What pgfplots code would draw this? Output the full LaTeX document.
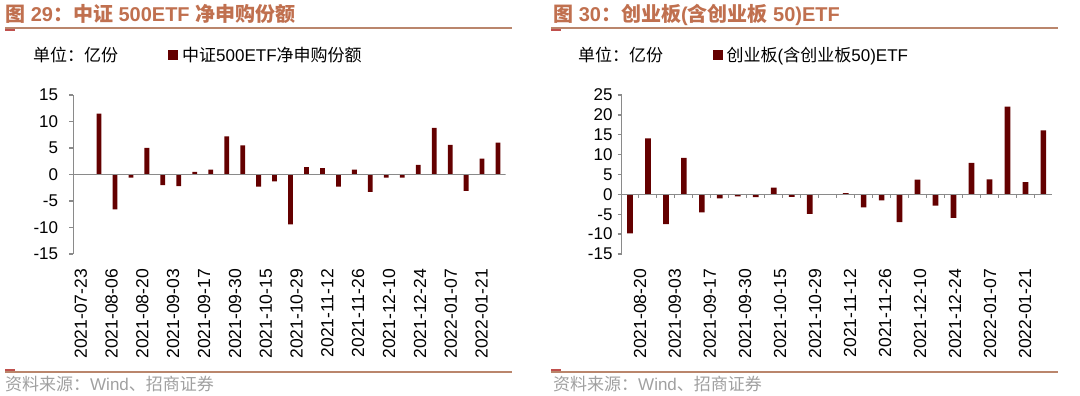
\documentclass[border=0pt]{standalone}
\usepackage{pgfplots}
\pgfplotsset{compat=1.18}
\usepackage{fontspec}
\setmainfont{Liberation Sans}
\newfontfamily\cjk{Noto Sans CJK SC}
\definecolor{barc}{HTML}{640000}
\definecolor{axgray}{HTML}{8A8A8A}
\definecolor{titlec}{HTML}{C0704F}
\definecolor{linec}{HTML}{BA866C}
\definecolor{segc}{HTML}{C0504D}
\definecolor{srcgray}{HTML}{A0A0A0}
\pgfplotsset{
  myax/.style={
    scale only axis, anchor=south west, height=159pt,
    ymin=-15, axis lines*=left,
    x axis line style={draw=none},
    y axis line style={draw=axgray, line width=1.3pt},
    xtick style={draw=none},
    ytick style={draw=axgray, line width=1.3pt},
    tick align=outside, major tick length=4pt,
    ybar, bar shift=0pt,
    xticklabel style={rotate=90, anchor=east, inner sep=0pt, font=\fontsize{17.5}{18}\selectfont},
    xticklabel shift=11pt,
    yticklabel style={anchor=east, inner sep=0pt, font=\fontsize{17}{18}\selectfont},
    legend style={draw=none, fill=none, inner sep=0pt, font=\fontsize{17}{20}\selectfont,
      column sep=4pt, nodes={inner sep=0pt}},
    legend image code/.code={\fill[barc] (0pt,-5pt) rectangle (10pt,5pt);},
  }
}
\begin{document}
\begin{tikzpicture}[x=1pt,y=1pt]
\path[use as bounding box] (0,0) rectangle (1080,396);
% ---------- left panel ----------
\node[anchor=base west, inner sep=0pt, text=titlec, font=\fontsize{20}{24}\selectfont\bfseries] at (5,374)
  {{\cjk\bfseries 图} 29{\cjk\bfseries ：中证} 500ETF {\cjk\bfseries 净申购份额}};
\draw[linec, line width=2pt] (5,367.7) -- (512,367.7);
\draw[segc, line width=1.5pt] (5,366.2) -- (15,366.2);
\node[anchor=west, inner sep=0pt, font=\fontsize{17}{20}\selectfont\cjk] at (33,341) {单位：亿份};
\begin{axis}[myax, at={(73.3pt,142pt)}, width=432.4pt,
  xmin=-0.61, xmax=26.48, ymax=15,
  ytick={-15,-10,-5,0,5,10,15}, yticklabels={-15,-10,-5,0,5,10,15},
  yticklabel style={xshift=-11pt},
  bar width=4.8pt,
  xtick={-0.14,1.79,3.72,5.65,7.59,9.52,11.45,13.38,15.31,17.24,19.18,21.11,23.04,24.97},
  xticklabels={2021-07-23,2021-08-06,2021-08-20,2021-09-03,2021-09-17,2021-09-30,2021-10-15,2021-10-29,2021-11-12,2021-11-26,2021-12-10,2021-12-24,2022-01-07,2022-01-21},
  legend style={at={(axis description cs:0.219,1.2516)}, anchor=west},
]
\addplot[fill=barc, draw=none] coordinates {
(0,0) (1,11.5) (2,-6.6) (3,-0.6) (4,5.0) (5,-2.0) (6,-2.2) (7,0.5) (8,0.9)
(9,7.2) (10,5.5) (11,-2.3) (12,-1.3) (13,-9.4) (14,1.4) (15,1.2) (16,-2.3)
(17,0.9) (18,-3.3) (19,-0.6) (20,-0.6) (21,1.8) (22,8.8) (23,5.6) (24,-3.1)
(25,3.0) (26,6.0)};
\addlegendentry{{\cjk 中证}500ETF{\cjk 净申购份额}}
\draw[axgray, line width=1.3pt] (axis cs:-0.61,0) -- (axis cs:26.48,0);
\end{axis}
\draw[linec, line width=2pt] (5,24.3) -- (512,24.3);
\draw[segc, line width=1.5pt] (5,26) -- (15,26);
\node[anchor=west, inner sep=0pt, text=srcgray, font=\fontsize{17}{20}\selectfont] at (5,12)
  {{\cjk 资料来源：}Wind{\cjk 、招商证券}};
% ---------- right panel ----------
\node[anchor=base west, inner sep=0pt, text=titlec, font=\fontsize{20}{24}\selectfont\bfseries] at (553,374)
  {{\cjk\bfseries 图} 30{\cjk\bfseries ：创业板}({\cjk\bfseries 含创业板} 50)ETF};
\draw[linec, line width=2pt] (551,367.7) -- (1058,367.7);
\draw[segc, line width=1.5pt] (551,366.2) -- (561,366.2);
\node[anchor=west, inner sep=0pt, font=\fontsize{17}{20}\selectfont\cjk] at (578,341) {单位：亿份};
\begin{axis}[myax, at={(621.7pt,142pt)}, width=430.3pt,
  xmin=-0.46, xmax=23.48, ymax=25,
  ytick={-15,-10,-5,0,5,10,15,20,25}, yticklabels={-15,-10,-5,0,5,10,15,20,25},
  yticklabel style={xshift=-5pt},
  bar width=5.7pt,
  xtick={0.56,2.50,4.45,6.40,8.35,10.30,12.24,14.19,16.14,18.09,20.04,21.98},
  xticklabels={2021-08-20,2021-09-03,2021-09-17,2021-09-30,2021-10-15,2021-10-29,2021-11-12,2021-11-26,2021-12-10,2021-12-24,2022-01-07,2022-01-21},
  legend style={at={(axis description cs:0.2111,1.2516)}, anchor=west},
]
\addplot[fill=barc, draw=none] coordinates {
(0,-9.8) (1,14.1) (2,-7.5) (3,9.2) (4,-4.5) (5,-1.0) (6,-0.5) (7,-0.7)
(8,1.7) (9,-0.6) (10,-4.9) (11,0) (12,0.3) (13,-3.3) (14,-1.5) (15,-7.0)
(16,3.7) (17,-2.8) (18,-5.9) (19,7.9) (20,3.8) (21,22.1) (22,3.1) (23,16.1)};
\addlegendentry{{\cjk 创业板}({\cjk 含创业板}50)ETF}
\draw[axgray, line width=1.3pt] (axis cs:-0.46,0) -- (axis cs:23.48,0);
\pgfplotsinvokeforeach{0,...,22}{\draw[axgray, line width=1pt] (axis cs:#1.5,0) -- ([yshift=-4pt]axis cs:#1.5,0);}
\end{axis}
\draw[linec, line width=2pt] (551,24.3) -- (1058,24.3);
\draw[segc, line width=1.5pt] (551,26) -- (561,26);
\node[anchor=west, inner sep=0pt, text=srcgray, font=\fontsize{17}{20}\selectfont] at (553,12)
  {{\cjk 资料来源：}Wind{\cjk 、招商证券}};
\end{tikzpicture}
\end{document}
